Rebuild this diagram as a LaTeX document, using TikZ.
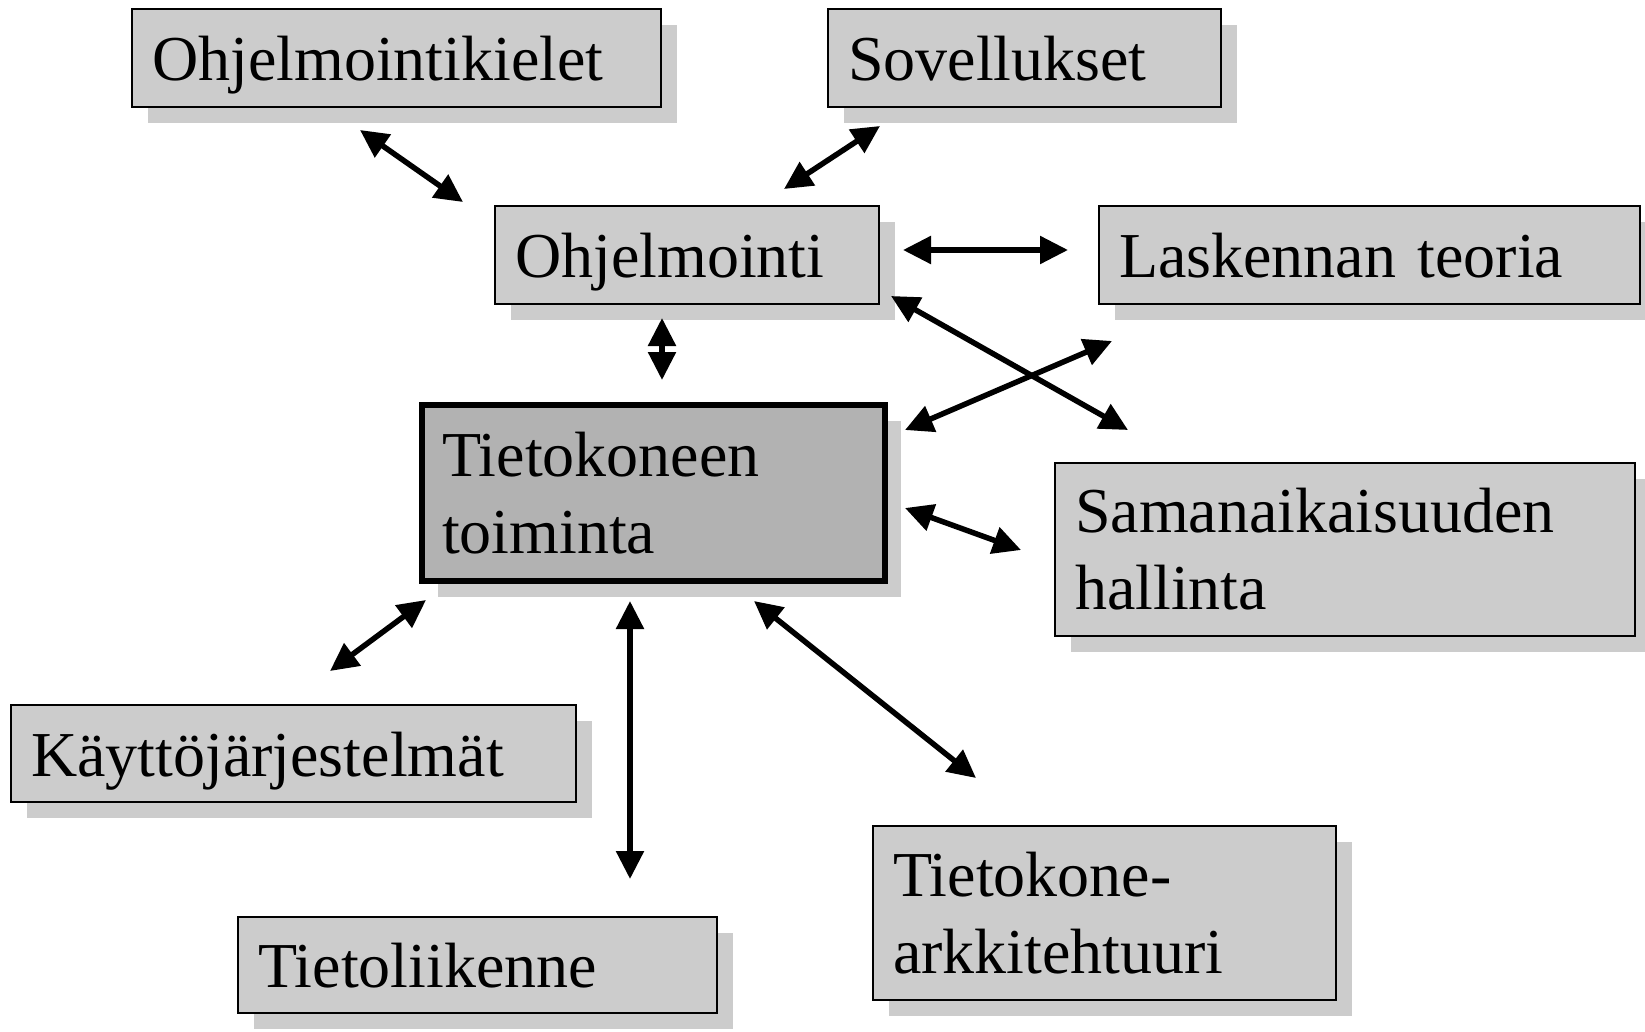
\documentclass[tikz,border=0pt]{standalone}
\usepackage{fontspec}
\setmainfont{Liberation Serif}
\usetikzlibrary{arrows.meta,shadows}
\definecolor{boxgray}{HTML}{CCCCCC}
\definecolor{centergray}{HTML}{B2B2B2}
\tikzset{
  topic/.style={draw=black, line width=2pt, fill=boxgray, anchor=north west,
    inner xsep=20pt, inner ysep=0pt, align=left,
    font=\fontsize{64}{77}\selectfont,
    drop shadow={shadow xshift=16pt, shadow yshift=-16pt, fill=boxgray, opacity=1}},
  oneline/.style={topic, text height=45pt, text depth=0pt},
  centerbox/.style={topic, line width=6pt, fill=centergray},
  link/.style={line width=5.5pt, {Triangle[length=28pt,width=27pt]}-{Triangle[length=28pt,width=27pt]}}
}
\newcommand{\boxat}[7]{% name, x1, y1, x2, y2, style, text
  \pgfmathsetmacro{\bxw}{#4-#2}%
  \pgfmathsetmacro{\bxh}{#5-#3}%
  \pgfmathsetmacro{\bxt}{#4-#2-40}%
  \node[#6, minimum width=\bxw pt, minimum height=\bxh pt, text width=\bxt pt] (#1) at (#2,#3) {#7};}
\begin{document}
\begin{tikzpicture}[x=1pt,y=-1pt]
\useasboundingbox (0,0) rectangle (1645,1032);
\boxat{kielet}{131}{8}{660}{106}{oneline}{Ohjelmointikielet}
\boxat{sovel}{827}{8}{1220}{106}{oneline}{Sovellukset}
\boxat{ohj}{494}{205}{878}{303}{oneline}{Ohjelmointi}
\boxat{lask}{1098}{205}{1639}{303}{oneline}{Laskennan teoria}
\boxat{tiet}{419}{402}{882}{578}{centerbox}{Tietokoneen\\toiminta}
\boxat{saman}{1054}{462}{1634}{635}{topic}{Samanaikaisuuden\\hallinta}
\boxat{kaytto}{10}{704}{575}{801}{oneline}{Käyttöjärjestelmät}
\boxat{liik}{237}{916}{716}{1012}{oneline}{Tietoliikenne}
\boxat{ark}{872}{825}{1335}{999}{topic}{Tietokone-\\arkkitehtuuri}

\coordinate (a1) at (360,130);  \coordinate (b1) at (463,202);
\coordinate (a2) at (880,126);  \coordinate (b2) at (784,189);
\coordinate (a3) at (903,250);  \coordinate (b3) at (1068,250);
\coordinate (a4) at (662,318);  \coordinate (b4) at (662,380);
\coordinate (a5) at (891,296);  \coordinate (b5) at (1128,430);
\coordinate (a6) at (905,430);  \coordinate (b6) at (1112,341);
\coordinate (a7) at (905,508);  \coordinate (b7) at (1021,550);
\coordinate (a8) at (426,600);  \coordinate (b8) at (330,671);
\coordinate (a9) at (630,601);  \coordinate (b9) at (630,879);
\coordinate (a10) at (754,601); \coordinate (b10) at (976,778);

\draw[link] (a1) -- (b1);
\draw[link] (a2) -- (b2);
\draw[link] (a3) -- (b3);
\draw[link] (a4) -- (b4);
\draw[link] (a5) -- (b5);
\draw[link] (a6) -- (b6);
\draw[link] (a7) -- (b7);
\draw[link] (a8) -- (b8);
\draw[link] (a9) -- (b9);
\draw[link] (a10) -- (b10);
\end{tikzpicture}
\end{document}
